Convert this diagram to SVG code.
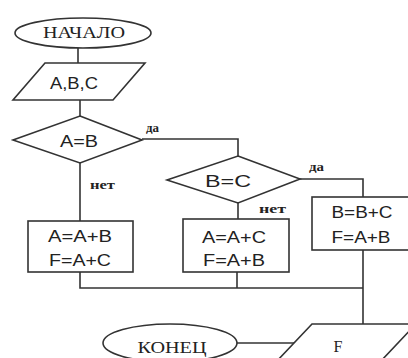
<svg xmlns="http://www.w3.org/2000/svg" width="408" height="358" viewBox="0 0 408 358">
<style>
.s{fill:#fff;stroke:#333;stroke-width:1.6}
.c{fill:none;stroke:#333;stroke-width:1.6}
.t{font-family:"Liberation Sans",Arial,sans-serif;font-size:16px;fill:#222;text-anchor:middle}
.r{font-family:"Liberation Serif","Times New Roman",serif;font-size:16px;fill:#222;text-anchor:middle}
.l{font-family:"Liberation Serif","Times New Roman",serif;font-size:13px;font-weight:bold;fill:#222}
</style>
<rect width="408" height="358" fill="#fff"/>
<g id="connectors">
<path class="c" d="M78 48V63"/>
<path class="c" d="M80 100V116"/>
<path class="c" d="M80 163V221"/>
<path class="c" d="M142 139H238V156"/>
<path class="c" d="M238 203V219"/>
<path class="c" d="M300 179H363V197"/>
<path class="c" d="M80 272V288H363"/>
<path class="c" d="M237 272V288"/>
<path class="c" d="M363 250V324"/>
<path class="c" d="M237 343H294"/>
<text class="l" x="146" y="132" textLength="13" lengthAdjust="spacingAndGlyphs">да</text>
<text class="l" x="90" y="189" textLength="25" lengthAdjust="spacingAndGlyphs">нет</text>
<text class="l" x="309" y="171" textLength="15" lengthAdjust="spacingAndGlyphs">да</text>
<text class="l" x="259" y="213" textLength="27" lengthAdjust="spacingAndGlyphs">нет</text>
</g>
<g id="start">
<ellipse class="s" cx="83" cy="33" rx="68" ry="15"/>
<text class="r" x="84" y="38" textLength="82" lengthAdjust="spacingAndGlyphs">НАЧАЛО</text>
</g>
<g id="input">
<polygon class="s" points="45,63 145,63 113,100 13,100"/>
<text class="t" x="74" y="89" textLength="48" lengthAdjust="spacingAndGlyphs">A,B,C</text>
</g>
<g id="cond1">
<polygon class="s" points="80,116 142,140 80,163 13,140"/>
<text class="t" x="79" y="147" textLength="38" lengthAdjust="spacingAndGlyphs">A=B</text>
</g>
<g id="cond2">
<polygon class="s" points="238,156 300,179 238,203 167,180"/>
<text class="t" x="228" y="187" textLength="46" lengthAdjust="spacingAndGlyphs">B=C</text>
</g>
<g id="box1">
<rect class="s" x="28" y="221" width="105" height="51"/>
<text class="t" x="80" y="242" textLength="64" lengthAdjust="spacingAndGlyphs">A=A+B</text>
<text class="t" x="80" y="266" textLength="62" lengthAdjust="spacingAndGlyphs">F=A+C</text>
</g>
<g id="box2">
<rect class="s" x="183" y="219" width="106" height="53"/>
<text class="t" x="234" y="243" textLength="64" lengthAdjust="spacingAndGlyphs">A=A+C</text>
<text class="t" x="234" y="266" textLength="62" lengthAdjust="spacingAndGlyphs">F=A+B</text>
</g>
<g id="box3">
<rect class="s" x="312" y="197" width="104" height="53"/>
<text class="t" x="362" y="218" textLength="61" lengthAdjust="spacingAndGlyphs">B=B+C</text>
<text class="t" x="361" y="243" textLength="59" lengthAdjust="spacingAndGlyphs">F=A+B</text>
</g>
<g id="end">
<ellipse class="s" cx="170" cy="343" rx="67" ry="19"/>
<text class="r" x="172" y="353" textLength="69" lengthAdjust="spacingAndGlyphs">КОНЕЦ</text>
</g>
<g id="output">
<polygon class="s" points="312,324 416,324 380,362 276,362"/>
<text class="r" x="338" y="352">F</text>
</g>
</svg>
